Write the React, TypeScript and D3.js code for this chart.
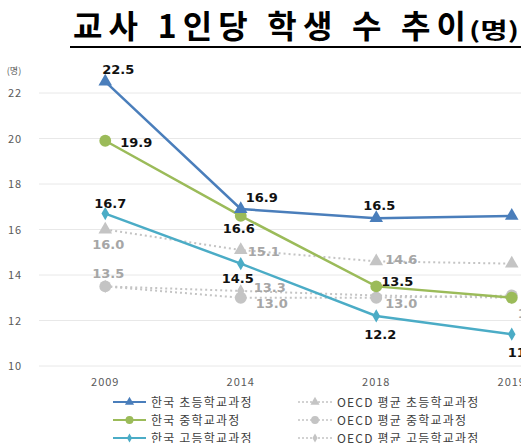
import React from "react";
import * as d3 from "d3";

const years = ["2009", "2014", "2018", "2019"];
const yTicks = [10, 12, 14, 16, 18, 20, 22];

const krElementary = [22.5, 16.9, 16.5, 16.6];
const krMiddle = [19.9, 16.6, 13.5, 13.0];
const krHigh = [16.7, 14.5, 12.2, 11.4];
const oecdElementary = [16.0, 15.1, 14.6, 14.5];
const oecdMiddle = [13.5, 13.0, 13.0, 13.1];
const oecdHigh = [13.5, 13.3, 13.1, 13.0];

const seriesNames = [
  "한국 초등학교과정",
  "한국 중학교과정",
  "한국 고등학교과정",
  "OECD 평균 초등학교과정",
  "OECD 평균 중학교과정",
  "OECD 평균 고등학교과정",
];

type Marker = "triangle" | "circle" | "diamond";

interface Series {
  name: string;
  values: number[];
  color: string;
  marker: Marker;
  dotted: boolean;
  labelColor: string;
  // label offsets per point (null = no label)
  labels: Array<[number, number] | null>;
}

const W = 521;
const H = 443;

const x = d3.scalePoint<string>().domain(years).range([37.5, 579.5]).padding(0.5);
const y = d3.scaleLinear().domain([10, 22]).range([366, 93]);

const series: Series[] = [
  {
    name: seriesNames[0],
    values: krElementary,
    color: "#4a7ebb",
    marker: "triangle",
    dotted: false,
    labelColor: "#111",
    labels: [[13, -13], [21, -12], [3, -13], null],
  },
  {
    name: seriesNames[1],
    values: krMiddle,
    color: "#9bbb59",
    marker: "circle",
    dotted: false,
    labelColor: "#111",
    labels: [[31, 1], [-2, 12], [21, -5], null],
  },
  {
    name: seriesNames[2],
    values: krHigh,
    color: "#4bacc6",
    marker: "diamond",
    dotted: false,
    labelColor: "#111",
    labels: [[5, -11], [-3, 14], [4, 18], [12, 18]],
  },
  {
    name: seriesNames[3],
    values: oecdElementary,
    color: "#c4c4c4",
    marker: "triangle",
    dotted: true,
    labelColor: "#a6a6a6",
    labels: [[3, 14], [23, 1], [25, -2], null],
  },
  {
    name: seriesNames[4],
    values: oecdMiddle,
    color: "#c4c4c4",
    marker: "circle",
    dotted: true,
    labelColor: "#a6a6a6",
    labels: [[3, -13], [31, 5], [25, 5], [22, 18]],
  },
  {
    name: seriesNames[5],
    values: oecdHigh,
    color: "#c4c4c4",
    marker: "diamond",
    dotted: true,
    labelColor: "#a6a6a6",
    labels: [null, [29, -4], null, null],
  },
];

const drawOrder = [3, 4, 5, 2, 1, 0];

function markerPath(m: Marker, size: number) {
  const sym =
    m === "triangle" ? d3.symbolTriangle : m === "circle" ? d3.symbolCircle : d3.symbolDiamond;
  return d3.symbol().type(sym).size(size)() || "";
}

const markerSize: Record<Marker, number> = { triangle: 80, circle: 110, diamond: 50 };

const font = "'Noto Sans CJK KR', 'Noto Sans', sans-serif";

export default function App() {
  const line = d3
    .line<number>()
    .x((_d, i) => x(years[i]) || 0)
    .y((d) => y(d));

  return (
    <svg
      width={W}
      height={H}
      style={{ position: "absolute", left: 0, top: 0, background: "#fff" }}
      fontFamily={font}
    >
      {/* title */}
      <text x={73} y={38} fontSize={32} fontWeight={700} fill="#000" textLength={393} lengthAdjust="spacing">
        교사 1인당 학생 수 추이
      </text>
      <text x={469} y={38} fontSize={22} fontWeight={700} fill="#000" textLength={50} lengthAdjust="spacingAndGlyphs">
        (명)
      </text>
      <line x1={70} x2={W} y1={47} y2={47} stroke="#000" strokeWidth={2} />

      {/* grid + y axis */}
      <text x={14} y={74} fontSize={9} fill="#595959" textAnchor="middle">
        (명)
      </text>
      {yTicks.map((t) => (
        <g key={t}>
          <line x1={39} x2={W} y1={y(t)} y2={y(t)} stroke="#e8e8e8" strokeWidth={1} />
          <text x={15} y={y(t) + 4} fontSize={11} fill="#595959" textAnchor="middle" letterSpacing={1}>
            {t}
          </text>
        </g>
      ))}

      {/* x axis labels */}
      {years.map((yr) => (
        <text key={yr} x={x(yr)} y={386} fontSize={11} fill="#595959" textAnchor="middle" letterSpacing={1}>
          {yr}
        </text>
      ))}

      {/* series */}
      {drawOrder.map((si) => {
        const s = series[si];
        return (
          <g key={s.name}>
            <path
              d={line(s.values) || ""}
              fill="none"
              stroke={s.color}
              strokeWidth={s.dotted ? 2 : 2.5}
              strokeDasharray={s.dotted ? "2,3" : undefined}
            />
            {s.values.map((v, i) => (
              <path
                key={i}
                d={markerPath(s.marker, markerSize[s.marker])}
                transform={`translate(${x(years[i])},${y(v)})`}
                fill={s.color}
              />
            ))}
          </g>
        );
      })}

      {/* labels */}
      {series.map((s) =>
        s.values.map((v, i) => {
          const off = s.labels[i];
          if (!off) return null;
          return (
            <text
              key={s.name + i}
              x={(x(years[i]) || 0) + off[0]}
              y={y(v) + off[1] + 5}
              fontSize={13}
              fontWeight={700}
              fill={s.labelColor}
              textAnchor="middle"
              fontFamily="'DejaVu Sans', sans-serif"
            >
              {v.toFixed(1)}
            </text>
          );
        })
      )}

      {/* legend */}
      {series.map((s, i) => {
        const col = i < 3 ? 0 : 1;
        const row = i % 3;
        const lx = col === 0 ? 113 : 298;
        const ly = 402 + row * 18;
        const len = col === 0 ? 33 : 34;
        return (
          <g key={"lg" + s.name}>
            <line
              x1={lx}
              x2={lx + len}
              y1={ly}
              y2={ly}
              stroke={s.color}
              strokeWidth={s.dotted ? 1.5 : 2}
              strokeDasharray={s.dotted ? "2,2" : undefined}
            />
            <path
              d={markerPath(s.marker, markerSize[s.marker] * 0.45)}
              transform={`translate(${lx + len / 2},${ly})`}
              fill={s.color}
            />
            <text x={lx + len + 5} y={ly + 4.5} fontSize={12} fill="#404040" letterSpacing={1.2}>
              {s.name}
            </text>
          </g>
        );
      })}
    </svg>
  );
}
